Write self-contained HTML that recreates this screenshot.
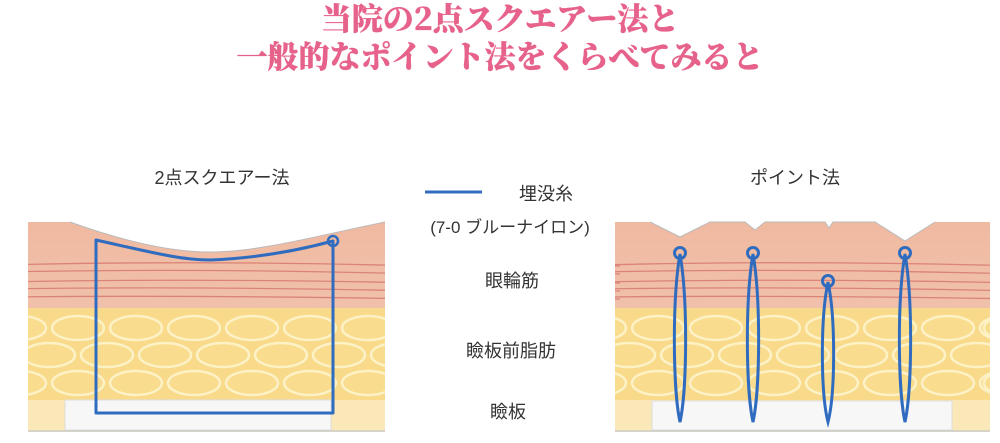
<!DOCTYPE html>
<html><head><meta charset="utf-8"><style>
html,body{margin:0;padding:0;background:#fff;}
body{width:1000px;height:443px;overflow:hidden;position:relative;}
svg{position:absolute;left:0;top:0;}
</style></head><body>
<svg width="1000" height="443" viewBox="0 0 1000 443" xmlns="http://www.w3.org/2000/svg">
<defs>
<linearGradient id="skin" x1="0" y1="0" x2="0" y2="1">
<stop offset="0" stop-color="#efb89e"/><stop offset="0.55" stop-color="#f1c2ad"/><stop offset="1" stop-color="#fbe6dc"/>
</linearGradient>
<clipPath id="cl"><rect x="28" y="200" width="357" height="232"/></clipPath>
<clipPath id="cr"><rect x="615" y="200" width="375" height="232"/></clipPath>
<g id="ell" fill="#f9dc8e" stroke="#fdf1c6" stroke-width="2.5">
<ellipse cx="20" cy="328" rx="26" ry="12"/><ellipse cx="78" cy="328" rx="26" ry="12"/><ellipse cx="136" cy="328" rx="26" ry="12"/><ellipse cx="194" cy="328" rx="26" ry="12"/><ellipse cx="252" cy="328" rx="26" ry="12"/><ellipse cx="310" cy="328" rx="26" ry="12"/><ellipse cx="368" cy="328" rx="26" ry="12"/><ellipse cx="426" cy="328" rx="26" ry="12"/>
<ellipse cx="49" cy="355" rx="26" ry="12"/><ellipse cx="107" cy="355" rx="26" ry="12"/><ellipse cx="165" cy="355" rx="26" ry="12"/><ellipse cx="223" cy="355" rx="26" ry="12"/><ellipse cx="281" cy="355" rx="26" ry="12"/><ellipse cx="339" cy="355" rx="26" ry="12"/><ellipse cx="397" cy="355" rx="26" ry="12"/>
<ellipse cx="20" cy="383" rx="26" ry="12"/><ellipse cx="78" cy="383" rx="26" ry="12"/><ellipse cx="136" cy="383" rx="26" ry="12"/><ellipse cx="194" cy="383" rx="26" ry="12"/><ellipse cx="252" cy="383" rx="26" ry="12"/><ellipse cx="310" cy="383" rx="26" ry="12"/><ellipse cx="368" cy="383" rx="26" ry="12"/><ellipse cx="426" cy="383" rx="26" ry="12"/>
</g>
<g id="mus" fill="none" stroke="#c9544f" stroke-width="1.3" opacity="0.55">
<path d="M0 265 Q200 260 420 266"/><path d="M0 272 Q200 268 420 274"/><path d="M0 282 Q200 278 420 283"/><path d="M0 289 Q200 286 420 291"/><path d="M0 297 Q200 295 420 299"/>
</g>
</defs>
<text x="500" y="30" text-anchor="middle" font-family="'Noto Serif CJK SC','Liberation Serif',serif" font-weight="900" font-size="31" fill="#e6628a" stroke="#e6628a" stroke-width="0.3">当院の2点スクエアー法と</text>
<text x="500" y="68" text-anchor="middle" font-family="'Noto Serif CJK SC','Liberation Serif',serif" font-weight="900" font-size="31" fill="#e6628a" stroke="#e6628a" stroke-width="0.3">一般的なポイント法をくらべてみると</text>
<g font-family="'Liberation Sans','Noto Sans CJK JP',sans-serif" font-size="18" fill="#333">
<text x="222" y="184" text-anchor="middle">2点スクエアー法</text>
<text x="795" y="184" text-anchor="middle">ポイント法</text>
<text x="546" y="200" text-anchor="middle">埋没糸</text>
<text x="510" y="233" text-anchor="middle" font-size="17">(7-0 ブルーナイロン)</text>
<text x="512" y="287" text-anchor="middle">眼輪筋</text>
<text x="511" y="357" text-anchor="middle">瞼板前脂肪</text>
<text x="508" y="418" text-anchor="middle">瞼板</text>
</g>
<line x1="425" y1="192" x2="482" y2="192" stroke="#2f6cc0" stroke-width="3"/>
<g clip-path="url(#cl)">
<rect x="28" y="200" width="357" height="232" fill="url(#skin)"/>
<rect x="28" y="308" width="357" height="124" fill="#f8da8a"/>
<use href="#ell"/>
<rect x="28" y="400" width="357" height="32" fill="#fbe8b8"/>
<rect x="65" y="400" width="266" height="30" fill="#f7f7f7" stroke="#ddd" stroke-width="1"/>
<use href="#mus"/>
<path d="M28 200 L28 222 L70 222 C120 240 170 252 210 252 C260 252 320 235 385 222 L385 200 Z" fill="#fff"/>
<path d="M70 222 C120 240 170 252 210 252 C260 252 320 235 385 222" fill="none" stroke="#bbb" stroke-width="1"/>
</g>
<line x1="28" y1="431" x2="385" y2="431" stroke="#ccc" stroke-width="1.5"/>
<path d="M96 413 L96 240 C150 252 180 260 210 260 C260 258 300 250 333 241 L333 413 Z" fill="none" stroke="#2f6cc0" stroke-width="3" stroke-linejoin="round"/>
<circle cx="333" cy="241" r="5" fill="none" stroke="#2f6cc0" stroke-width="2.5"/>
<g clip-path="url(#cr)">
<rect x="615" y="200" width="375" height="232" fill="url(#skin)"/>
<rect x="615" y="308" width="375" height="124" fill="#f8da8a"/>
<use href="#ell" transform="translate(580,0)"/>
<use href="#ell" transform="translate(990,0)"/>
<rect x="615" y="400" width="375" height="32" fill="#fbe8b8"/>
<rect x="652" y="401" width="300" height="29" fill="#f7f7f7" stroke="#ddd" stroke-width="1"/>
<use href="#mus" transform="translate(600,0)"/>
<use href="#mus" transform="translate(200,0)"/>
<path d="M615 200 L615 222 L650 222 L680 237 L710 222 L745 222 L755 230 L765 222 L825 222 L829 228 L833 222 L875 222 L905 241 L935 222 L990 222 L990 200 Z" fill="#fff"/>
<path d="M650 222 L680 237 L710 222 L745 222 L755 230 L765 222 L825 222 L829 228 L833 222 L875 222 L905 241 L935 222" fill="none" stroke="#bbb" stroke-width="1"/>
</g>
<line x1="615" y1="431" x2="990" y2="431" stroke="#ccc" stroke-width="1.5"/>
<g fill="none" stroke="#2f6cc0" stroke-width="3">
<path d="M680 254 C672 300 673 390 680 422 C687 390 688 300 680 254 Z"/><circle cx="680" cy="253" r="5.5"/>
<path d="M753 254 C745 300 746 390 753 422 C760 390 761 300 753 254 Z"/><circle cx="753" cy="253" r="5.5"/>
<path d="M828 282 C820 320 821 395 828 422 C835 395 836 320 828 282 Z"/><circle cx="828" cy="281" r="5.5"/>
<path d="M905 254 C897 300 898 390 905 422 C912 390 913 300 905 254 Z"/><circle cx="905" cy="253" r="5.5"/>
</g>
</svg>
</body></html>
